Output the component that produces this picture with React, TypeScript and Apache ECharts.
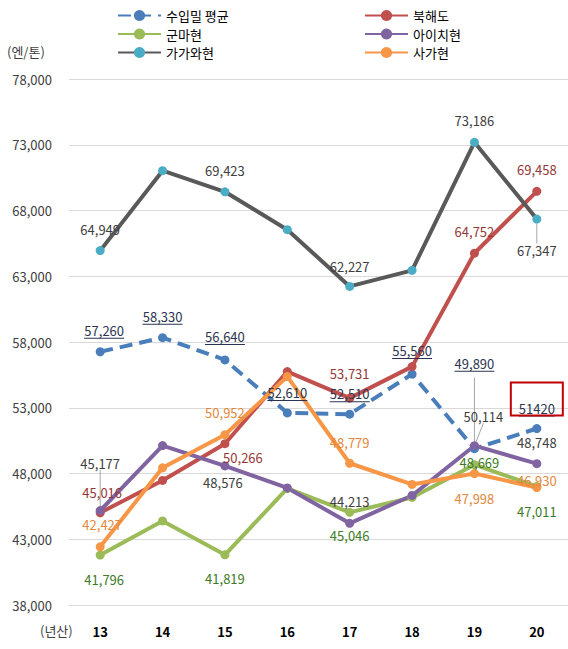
import React, { useEffect, useRef } from 'react';
import * as echarts from 'echarts';

const categories = ['13', '14', '15', '16', '17', '18', '19', '20'];
const avgImport = [57260, 58330, 56640, 52610, 52510, 55560, 49890, 51420];
const hokkaido = [45016, 47470, 50266, 55750, 53731, 56130, 64752, 69458];
const gunma = [41796, 44390, 41819, 46860, 45046, 46180, 48669, 47011];
const aichi = [45177, 50120, 48576, 46900, 44213, 46330, 50114, 48748];
const kagawa = [64949, 71030, 69423, 66540, 62227, 63450, 73186, 67347];
const saga = [42427, 48430, 50952, 55370, 48779, 47170, 47998, 46930];
const yMin = 38000;
const yMax = 78000;
const yStep = 5000;

const seriesNames = ['수입밀 평균', '북해도', '군마현', '아이치현', '가가와현', '사가현'];

// label placement: index -> [dx, dy, leader]
type Place = Record<number, [number, number, boolean?]>;
const avgPlace: Place = { 0: [4, -21], 1: [0, -21], 2: [0, -23], 3: [0, -20], 4: [0, -20], 5: [0, -23], 6: [0, -85, true], 7: [0, -20] };
const hokkaidoPlace: Place = { 0: [2, -20], 2: [18, 14], 4: [0, -25], 6: [0, -22], 7: [0, -22] };
const gunmaPlace: Place = { 0: [4, 24], 2: [0, 24], 4: [0, 23], 6: [5, -2], 7: [0, 25] };
const aichiPlace: Place = { 0: [0, -47, true], 2: [-2, 17], 4: [0, -22], 6: [9, -29, true], 7: [0, -21] };
const kagawaPlace: Place = { 0: [0, -21], 2: [0, -21], 4: [0, -20], 6: [0, -22], 7: [0, 31, true] };
const sagaPlace: Place = { 0: [2, -22], 2: [0, -22], 4: [0, -21], 6: [0, 25], 7: [0, -7] };

const FONT = '"Noto Sans CJK KR", "Noto Sans", sans-serif';
const fmt = (v: number) => v.toLocaleString('en-US');

let measureCtx: CanvasRenderingContext2D | null = null;
function textWidth(t: string) {
  if (!measureCtx) {
    const c = document.createElement('canvas');
    measureCtx = c.getContext('2d');
  }
  if (!measureCtx) return t.length * 7;
  measureCtx.font = `13px ${FONT}`;
  return Math.round(measureCtx.measureText(t).width);
}

function makeSeries(
  name: string,
  values: number[],
  lineColor: string,
  markerColor: string,
  labelColor: string,
  place: Place,
  dashed = false,
  underline = false,
  plainIdx = -1
) {
  const rich: any = {
    t: { color: labelColor, fontSize: 13, fontFamily: FONT, lineHeight: 15 },
  };
  values.forEach((v, i) => {
    const t = i === plainIdx ? String(v) : fmt(v);
    rich['u' + i] = { width: textWidth(t), height: 1, lineHeight: 1, backgroundColor: labelColor, align: 'center' };
  });
  return {
    name,
    type: 'line',
    symbol: 'circle',
    symbolSize: 9,
    lineStyle: { color: lineColor, width: 4, type: dashed ? [13, 7] : 'solid' },
    itemStyle: { color: markerColor },
    data: values.map((v, i) => {
      const p = place[i];
      return p
        ? { value: v, label: { show: true }, labelLine: { show: !!p[2] } }
        : { value: v, label: { show: false } };
    }),
    label: {
      show: false,
      position: 'inside',
      color: labelColor,
      fontSize: 13,
      fontFamily: FONT,
      formatter: (pr: any) => {
        const t = pr.dataIndex === plainIdx ? String(pr.value) : fmt(pr.value);
        return underline ? `{t|${t}}\n{u${pr.dataIndex}|}` : t;
      },
      rich: underline ? rich : undefined,
    },
    labelLine: { show: false, lineStyle: { color: '#A6A6A6', width: 1 } },
    labelLayout: (pr: any) => {
      const p = place[pr.dataIndex];
      return p ? { dx: p[0], dy: p[1] } : {};
    },
    z: 2,
  };
}

export default function App() {
  const ref = useRef<HTMLDivElement>(null);
  useEffect(() => {
    if (!ref.current) return;
    const chart = echarts.init(ref.current, undefined, { renderer: 'svg' });
    const legendCommon = {
      orient: 'vertical',
      top: 4,
      itemWidth: 43,
      itemHeight: 14,
      itemGap: 5.5,
      textStyle: { fontSize: 13, color: '#000', fontFamily: FONT },
    };
    chart.setOption({
      animation: false,
      textStyle: { fontFamily: FONT },
      legend: [
        { ...legendCommon, left: 112, data: [seriesNames[0], seriesNames[2], seriesNames[4]] },
        { ...legendCommon, left: 359, data: [seriesNames[1], seriesNames[3], seriesNames[5]] },
      ],
      grid: { left: 69, right: -4, top: 79, bottom: 44 },
      xAxis: {
        type: 'category',
        data: categories,
        boundaryGap: true,
        axisLine: { show: true, lineStyle: { color: '#D9D9D9' } },
        axisTick: { show: false },
        axisLabel: { color: '#000', fontSize: 13, fontWeight: 'bold', margin: 20, fontFamily: FONT },
      },
      yAxis: {
        type: 'value',
        min: yMin,
        max: yMax,
        interval: yStep,
        axisLine: { show: false },
        axisTick: { show: false },
        splitLine: { lineStyle: { color: '#D9D9D9', width: 1 } },
        axisLabel: { color: '#404040', fontSize: 13, margin: 17, fontFamily: FONT, formatter: (v: number) => fmt(v) },
      },
      series: [
        makeSeries(seriesNames[0], avgImport, '#4A7EBB', '#4A7EBB', '#2B3550', avgPlace, true, true, 7),
        makeSeries(seriesNames[1], hokkaido, '#C0504D', '#C0504D', '#953735', hokkaidoPlace),
        makeSeries(seriesNames[2], gunma, '#9BBB59', '#9BBB59', '#3E7B27', gunmaPlace),
        makeSeries(seriesNames[3], aichi, '#8064A2', '#8064A2', '#404040', aichiPlace),
        makeSeries(seriesNames[4], kagawa, '#595959', '#4BACC6', '#404040', kagawaPlace),
        makeSeries(seriesNames[5], saga, '#F79646', '#F79646', '#E4873A', sagaPlace),
      ],
    });
    const pt = chart.convertToPixel({ xAxisIndex: 0, yAxisIndex: 0 }, [categories[7], avgImport[7]]) as number[];
    chart.setOption({
      graphic: [
        { type: 'text', left: 7, top: 45, style: { text: '(엔/톤)', fontSize: 13, fill: '#404040', fontFamily: FONT } },
        { type: 'text', left: 40, top: 624, style: { text: '(년산)', fontSize: 13, fill: '#404040', fontFamily: FONT } },
        {
          type: 'rect',
          shape: { x: pt[0] - 26, y: pt[1] - 46, width: 52, height: 33 },
          style: { fill: 'none', stroke: '#C00000', lineWidth: 2 },
          z: 10,
        },
      ],
    });
    return () => chart.dispose();
  }, []);
  return <div ref={ref} style={{ width: 568, height: 649, position: 'absolute', left: 0, top: 0 }} />;
}
